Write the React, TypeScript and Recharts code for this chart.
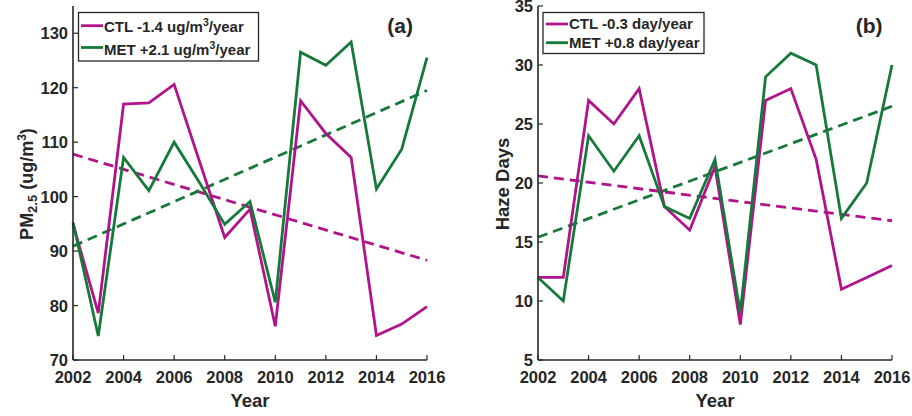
import React from 'react';
import { LineChart, Line, XAxis, YAxis } from 'recharts';

// ---------- data ----------
const years = [2002, 2003, 2004, 2005, 2006, 2007, 2008, 2009, 2010, 2011, 2012, 2013, 2014, 2015, 2016];
const xTicks = [2002, 2004, 2006, 2008, 2010, 2012, 2014, 2016];

// panel (a): PM2.5 (ug/m3)
const pmCtl = [95.0, 78.6, 117.0, 117.2, 120.6, 106.5, 92.5, 97.7, 76.2, 117.6, 111.6, 107.2, 74.5, 76.6, 79.8];
const pmMet = [95.3, 74.4, 107.2, 101.1, 110.0, 102.6, 94.9, 99.1, 80.6, 126.5, 124.1, 128.4, 101.4, 108.7, 125.5];
const pmTicks = [70, 80, 90, 100, 110, 120, 130];
const pmDomain = [70, 135];

// panel (b): haze days
const hazeCtl = [12, 12, 27, 25, 28, 18, 16, 21.4, 8, 27, 28, 22, 11, 12, 13];
const hazeMet = [12, 10, 24, 21, 24, 18, 17, 22, 9, 29, 31, 30, 17, 20, 30];
const hazeTicks = [5, 10, 15, 20, 25, 30, 35];
const hazeDomain = [5, 35];

// trend line end points (2002, 2016)
const trendYears = [2002, 2016];
const pmCtlTrend = [107.8, 88.3];
const pmMetTrend = [90.9, 119.5];
const hazeCtlTrend = [20.6, 16.8];
const hazeMetTrend = [15.4, 26.5];

// ---------- styling ----------
const FONT = '"Liberation Sans", Arial, Helvetica, sans-serif';
const AX = '#262626';
const MAGENTA = '#B0138A';
const GREEN = '#16793A';
const LW = 2.8;

const pmData = years.map((year, i) => ({ year, ctl: pmCtl[i], met: pmMet[i] }));
const hazeData = years.map((year, i) => ({ year, ctl: hazeCtl[i], met: hazeMet[i] }));
const mkTrend = (vals: number[]) => trendYears.map((year, i) => ({ year, v: vals[i] }));

const BottomTick = (p: any) => (
  <g>
    <line x1={p.x} x2={p.x} y1={p.y} y2={p.y - 5} stroke={AX} strokeWidth={1.2} />
    <text x={p.x} y={p.y + 23} textAnchor="middle" fontFamily={FONT} fontWeight="bold" fontSize={16.5} fill={AX}>
      {p.payload.value}
    </text>
  </g>
);
const TopTick = (p: any) => (
  <line x1={p.x} x2={p.x} y1={p.y} y2={p.y + 5} stroke={AX} strokeWidth={1.2} />
);
const LeftTick = (p: any) => (
  <g>
    <line x1={p.x} x2={p.x + 5} y1={p.y} y2={p.y} stroke={AX} strokeWidth={1.2} />
    <text x={p.x - 5} y={p.y + 6} textAnchor="end" fontFamily={FONT} fontWeight="bold" fontSize={16.5} fill={AX}>
      {p.payload.value}
    </text>
  </g>
);
const RightTick = (p: any) => (
  <line x1={p.x} x2={p.x - 5} y1={p.y} y2={p.y} stroke={AX} strokeWidth={1.2} />
);

const axisLine = { stroke: AX, strokeWidth: 1.6 };

function Panel(props: {
  left: number;
  data: any[];
  ctlTrend: number[];
  metTrend: number[];
  domain: number[];
  ticks: number[];
  yAxisWidth: number;
  marginRight: number;
  yLabel: (vb: any) => React.ReactNode;
}) {
  const { left, data, ctlTrend, metTrend, domain, ticks, yAxisWidth, marginRight, yLabel } = props;
  return (
    <div style={{ position: 'absolute', left, top: 0, width: 456, height: 416 }}>
      <LineChart width={456} height={416} data={data} margin={{ top: 6, right: marginRight, bottom: 0, left: 0 }}>
        <XAxis
          dataKey="year"
          type="number"
          domain={[2002, 2016]}
          ticks={xTicks}
          interval={0}
          height={56}
          tickSize={0}
          tickMargin={0}
          tickLine={false}
          axisLine={axisLine}
          tick={BottomTick}
          label={{
            content: (lp: any) => {
              const vb = lp.viewBox || { x: 0, y: 360, width: 354 };
              return (
                <text x={vb.x + vb.width / 2} y={vb.y + 47} textAnchor="middle" fontFamily={FONT} fontWeight="bold" fontSize={18.5} fill={AX}>
                  Year
                </text>
              );
            },
          }}
        />
        <XAxis
          xAxisId="top"
          orientation="top"
          dataKey="year"
          type="number"
          domain={[2002, 2016]}
          ticks={xTicks}
          interval={0}
          height={0}
          tickSize={0}
          tickMargin={0}
          tickLine={false}
          axisLine={axisLine}
          tick={TopTick}
        />
        <YAxis
          type="number"
          domain={domain}
          ticks={ticks}
          interval={0}
          width={yAxisWidth}
          tickSize={0}
          tickMargin={0}
          tickLine={false}
          axisLine={axisLine}
          tick={LeftTick}
          label={{ content: (lp: any) => yLabel(lp.viewBox) }}
        />
        <YAxis
          yAxisId="right"
          orientation="right"
          type="number"
          domain={domain}
          ticks={ticks}
          interval={0}
          width={0}
          tickSize={0}
          tickMargin={0}
          tickLine={false}
          axisLine={axisLine}
          tick={RightTick}
          allowDataOverflow
        />
        <Line data={mkTrend(ctlTrend)} dataKey="v" stroke={MAGENTA} strokeWidth={LW} strokeDasharray="10 6" dot={false} isAnimationActive={false} />
        <Line data={mkTrend(metTrend)} dataKey="v" stroke={GREEN} strokeWidth={LW} strokeDasharray="10 6" dot={false} isAnimationActive={false} />
        <Line dataKey="ctl" stroke={MAGENTA} strokeWidth={LW} dot={false} isAnimationActive={false} strokeLinejoin="miter" />
        <Line dataKey="met" stroke={GREEN} strokeWidth={LW} dot={false} isAnimationActive={false} strokeLinejoin="miter" />
      </LineChart>
    </div>
  );
}

const PmLabel = () => (
  <text
    x={33}
    y={184}
    transform="rotate(-90 33 184)"
    textAnchor="middle"
    fontFamily={FONT}
    fontWeight="bold"
    fontSize={18}
    fill={AX}
  >
    <tspan>PM</tspan>
    <tspan dy={4} fontSize={13}>2.5</tspan>
    <tspan dy={-4}> (ug/m</tspan>
    <tspan dy={-7} fontSize={12}>3</tspan>
    <tspan dy={7}>)</tspan>
  </text>
);

const HazeLabel = () => (
  <text
    x={53}
    y={184}
    transform="rotate(-90 53 184)"
    textAnchor="middle"
    fontFamily={FONT}
    fontWeight="bold"
    fontSize={18.5}
    fill={AX}
  >
    Haze Days
  </text>
);

const legendText = { fontFamily: FONT, fontWeight: 'bold' as const, fontSize: 15, fill: AX };

function Overlay() {
  return (
    <svg width={912} height={416} style={{ position: 'absolute', left: 0, top: 0, pointerEvents: 'none' }}>
      {/* legend (a) */}
      <rect x={78.5} y={12.5} width={180} height={48.5} fill="#fff" stroke={AX} strokeWidth={1.3} />
      <line x1={81} x2={103} y1={25.7} y2={25.7} stroke={MAGENTA} strokeWidth={LW} />
      <line x1={81} x2={103} y1={47.5} y2={47.5} stroke={GREEN} strokeWidth={LW} />
      <text x={104} y={31.5} {...legendText}>
        <tspan>CTL -1.4 ug/m</tspan>
        <tspan dy={-6} fontSize={10.5}>3</tspan>
        <tspan dy={6}>/year</tspan>
      </text>
      <text x={104} y={55} {...legendText}>
        <tspan>MET +2.1 ug/m</tspan>
        <tspan dy={-6} fontSize={10.5}>3</tspan>
        <tspan dy={6}>/year</tspan>
      </text>
      <text x={413} y={32.5} textAnchor="end" fontFamily={FONT} fontWeight="bold" fontSize={21} fill={AX}>
        (a)
      </text>

      {/* legend (b) */}
      <rect x={543} y={12.5} width={161} height={41} fill="#fff" stroke={AX} strokeWidth={1.3} />
      <line x1={546} x2={568} y1={24} y2={24} stroke={MAGENTA} strokeWidth={LW} />
      <line x1={546} x2={568} y1={42.7} y2={42.7} stroke={GREEN} strokeWidth={LW} />
      <text x={569} y={29.3} {...legendText}>CTL -0.3 day/year</text>
      <text x={569} y={48.3} {...legendText}>MET +0.8 day/year</text>
      <text x={882.5} y={32.5} textAnchor="end" fontFamily={FONT} fontWeight="bold" fontSize={21} fill={AX}>
        (b)
      </text>
    </svg>
  );
}

export default function App() {
  return (
    <div style={{ position: 'absolute', left: 0, top: 0, width: 912, height: 416, background: '#fff', overflow: 'hidden' }}>
      <Panel
        left={0}
        data={pmData}
        ctlTrend={pmCtlTrend}
        metTrend={pmMetTrend}
        domain={pmDomain}
        ticks={pmTicks}
        yAxisWidth={73}
        marginRight={29}
        yLabel={() => <PmLabel />}
      />
      <Panel
        left={456}
        data={hazeData}
        ctlTrend={hazeCtlTrend}
        metTrend={hazeMetTrend}
        domain={hazeDomain}
        ticks={hazeTicks}
        yAxisWidth={82}
        marginRight={20}
        yLabel={() => <HazeLabel />}
      />
      <Overlay />
    </div>
  );
}
